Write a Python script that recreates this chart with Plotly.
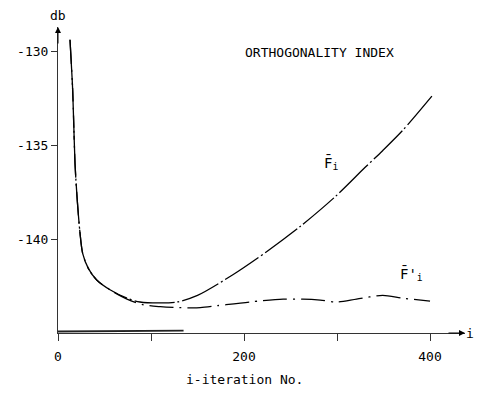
import plotly.graph_objects as go

# F_i curve (iteration index, dB)
fi_i = [12.9, 15.8, 18.3, 20.8, 23.7, 26.5, 32.6, 41.6, 55.9, 74.2, 88.2, 109.7, 128, 150,
        188, 225, 260, 298, 330, 349, 371, 402]
fi_db = [-129.4, -132.1, -136.0, -138.0, -139.7, -140.76, -141.56, -142.18, -142.7, -143.15, -143.35,
         -143.4, -143.35, -143.0, -141.9, -140.65, -139.35, -137.75, -136.2, -135.3, -134.2, -132.4]

# F'_i curve
fp_i = [12.9, 15.8, 18.3, 20.8, 23.7, 26.5, 32.6, 41.6, 55.9, 74.2, 92, 110, 130, 153, 171, 206,
        242, 263, 282, 300, 321, 349, 371, 400]
fp_db = [-129.4, -132.1, -136.0, -138.0, -139.7, -140.76, -141.56, -142.18, -142.7, -143.2, -143.5,
         -143.6, -143.65, -143.65, -143.55, -143.35, -143.2, -143.2, -143.25, -143.35, -143.2,
         -143.0, -143.15, -143.3]

# short trace near the axis
base_i = [0, 60, 135]
base_db = [-144.92, -144.9, -144.87]

x_ticks = [0, 100, 200, 300, 400]
x_ticktext = ["0", "", "200", "", "400"]
y_ticks = [-130, -135, -140]
y_ticktext = ["-130", "-135", "-140"]

XMAX = 437.6
YMIN, YMAX = -145, -128.72
FONT = "DejaVu Sans Mono"

fig = go.Figure()
fig.add_trace(go.Scatter(x=fi_i, y=fi_db, mode="lines", line=dict(color="black", width=1.3,
              shape="spline", smoothing=0.8, dash="40px,3px,2px,3px"), hoverinfo="skip"))
fig.add_trace(go.Scatter(x=fp_i, y=fp_db, mode="lines", line=dict(color="black", width=1.3,
              shape="spline", smoothing=0.8, dash="24px,6px,2px,6px"), hoverinfo="skip"))
fig.add_trace(go.Scatter(x=base_i, y=base_db, mode="lines", line=dict(color="#222", width=1.8),
              hoverinfo="skip"))

# page body has an 8px margin; the figure is sized so the page never overflows
fig.update_layout(
    width=466, height=381, showlegend=False,
    margin=dict(l=50, r=9, t=19, b=56, autoexpand=False),
    paper_bgcolor="white", plot_bgcolor="white",
    font=dict(family=FONT, size=13, color="black"),
    xaxis=dict(range=[0, XMAX], showgrid=False, zeroline=False, showline=True, linecolor="#333",
               linewidth=1, ticks="outside", ticklen=7, tickcolor="#333", automargin=False,
               tickvals=x_ticks, ticktext=x_ticktext, ticklabelstandoff=4),
    yaxis=dict(range=[YMIN, YMAX], showgrid=False, zeroline=False, showline=True, linecolor="#333",
               linewidth=1, ticks="outside", ticklen=6, tickcolor="#333", automargin=False,
               tickvals=y_ticks, ticktext=y_ticktext),
    annotations=[
        dict(x=XMAX, y=YMIN, xref="x", yref="y", ax=-18, ay=0, text="", showarrow=True,
             arrowhead=2, arrowsize=1.2, arrowwidth=1, arrowcolor="black"),
        dict(x=0, y=YMAX, xref="x", yref="y", ax=0, ay=18, text="", showarrow=True,
             arrowhead=2, arrowsize=1.2, arrowwidth=1, arrowcolor="black"),
        dict(x=0, y=1, xref="x", yref="paper", yshift=12, yanchor="middle", xanchor="center",
             text="db", showarrow=False, font=dict(size=13, family=FONT)),
        dict(x=1, y=0, xref="paper", yref="paper", xshift=5, xanchor="center", yanchor="middle",
             text="i", showarrow=False, font=dict(size=13, family=FONT)),
        dict(x=201, y=0, xref="x", yref="paper", yshift=-46, xanchor="center", yanchor="middle",
             text="i-iteration No.", showarrow=False, font=dict(size=13, family=FONT)),
        dict(x=281, y=-130.05, xref="x", yref="y", text="ORTHOGONALITY INDEX", showarrow=False,
             font=dict(size=13, family=FONT)),
        dict(x=294, y=-135.95, xref="x", yref="y", text="F\u0304<sub>i</sub>", showarrow=False,
             font=dict(size=14, family=FONT)),
        dict(x=380, y=-141.85, xref="x", yref="y", text="F\u0304'<sub>i</sub>", showarrow=False,
             font=dict(size=14, family=FONT)),
    ],
)

fig.write_html("out.html")
